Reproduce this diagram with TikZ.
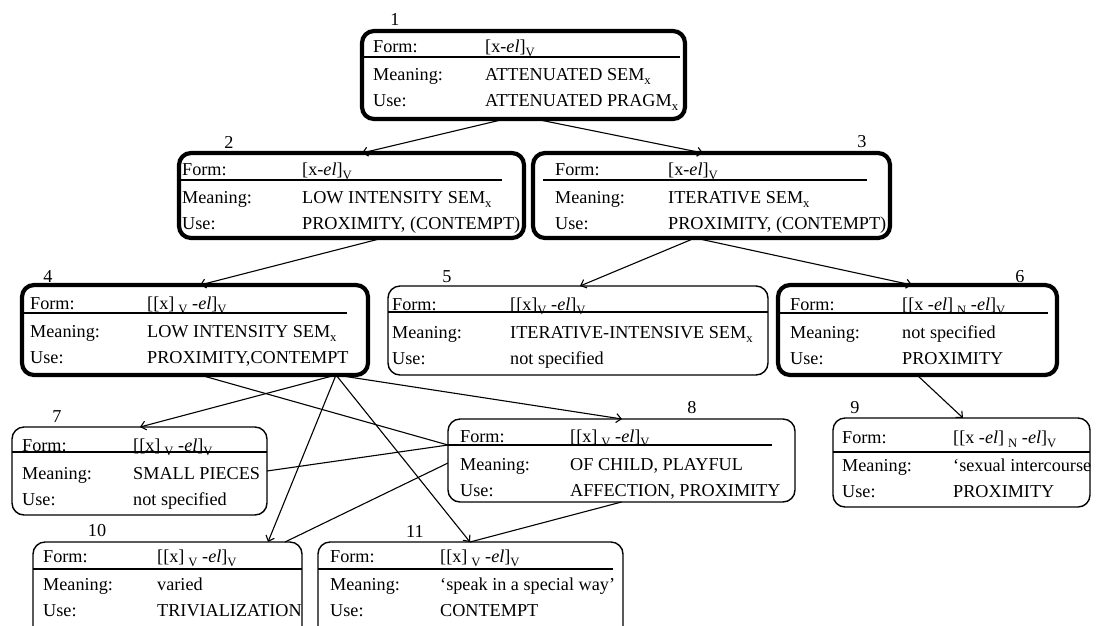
\documentclass[tikz,border=0pt]{standalone}
\usepackage{fontspec}
\setmainfont{Liberation Serif}
\usetikzlibrary{arrows.meta,fit}

\tikzset{
  entry/.style={draw, rounded corners=12pt, inner sep=0pt, outer sep=0pt},
  heavy/.style={entry, line width=4.2pt},
  light/.style={entry, line width=1.4pt},
  txt/.style={anchor=base west, inner sep=0pt, font=\fontsize{18.2}{22}\selectfont},
  num/.style={inner sep=0pt, font=\fontsize{18.2}{22}\selectfont},
  rowrule/.style={line width=1.2pt},
  link/.style={line width=1.1pt},
  arr/.style={link, -{Straight Barb[length=5pt,width=9pt]}},
}

% lowered, reduced subscript
\newcommand\lowsub[1]{\raisebox{-0.27em}{\fontsize{12.7}{13}\selectfont #1}}

% #1 name, #2 top of text block, #3 label column, #4 value column,
% #5/#6 ends of the rule under the form row, #7 form, #8 meaning, #9 use
\newcommand\entrytext[9]{%
  \node[txt] (#1-fl) at (#3,#2+24) {Form:};
  \node[txt] (#1-fv) at (#4,#2+24) {#7};
  \draw[rowrule] (#5) -- (#6);
  \node[txt] (#1-ml) at (#3,#2+52) {Meaning:};
  \node[txt] (#1-mv) at (#4,#2+52) {#8};
  \node[txt] (#1-ul) at (#3,#2+78) {Use:};
  \node[txt] (#1-uv) at (#4,#2+78) {#9};
}

\newcommand\formA{[x-\textit{el}]\lowsub{V}}
\newcommand\formB{[[x]\hspace{0.22em}\lowsub{V} -\textit{el}]\lowsub{V}}
\newcommand\formC{[[x]\lowsub{V} -\textit{el}]\lowsub{V}}
\newcommand\formD{[[x -\textit{el}]\hspace{0.22em}\lowsub{N} -\textit{el}]\lowsub{V}}

\begin{document}
\begin{tikzpicture}[x=1pt,y=-1pt]
\useasboundingbox (0,0) rectangle (1097,625);
\clip (0,0) rectangle (1097,625);
\fill[white] (0,0) rectangle (1097,625);

% boxes
\node[heavy, fit={(362,31) (685,119)}] (b1) {};
\node[heavy, fit={(179,153) (524,238)}] (b2) {};
\node[heavy, fit={(533,153) (890,238)}] (b3) {};
\node[heavy, fit={(22,285) (368,375)}] (b4) {};
\node[light, fit={(388,286) (768,375)}] (b5) {};
\node[heavy, fit={(778,285) (1057,375)}] (b6) {};
\node[light, fit={(12,427) (267,515)}] (b7) {};
\node[light, fit={(448,419) (795,502)}] (b8) {};
\node[light, fit={(833,418) (1090,507)}] (b9) {};
\node[light, fit={(33,542) (302,650)}] (b10) {};
\node[light, fit={(318,542) (623,650)}] (b11) {};

% numbers
\node[num] (n1) at (395,19) {1};
\node[num] (n2) at (229,142) {2};
\node[num] (n3) at (862,142) {3};
\node[num] (n4) at (48,277) {4};
\node[num] (n5) at (447,277) {5};
\node[num] (n6) at (1020,277) {6};
\node[num] (n7) at (57,417) {7};
\node[num] (n8) at (692,408) {8};
\node[num] (n9) at (855,408) {9};
\node[num] (n10) at (97,531) {10};
\node[num] (n11) at (415,531) {11};

% contents
\entrytext{t1}{28}{373}{485}{363,57}{680,57}{\formA}{ATTENUATED SEM\lowsub{x}}{ATTENUATED PRAGM\lowsub{x}}
\entrytext{t2}{151}{182}{302}{179,180}{502,180}{\formA}{LOW INTENSITY SEM\lowsub{x}}{PROXIMITY, (CONTEMPT)}
\entrytext{t3}{151}{555}{668}{543,180}{867,180}{\formA}{ITERATIVE SEM\lowsub{x}}{PROXIMITY, (CONTEMPT)}
\entrytext{t4}{285}{30}{147}{22,313}{347,313}{\formB}{LOW INTENSITY SEM\lowsub{x}}{PROXIMITY,CONTEMPT}
\entrytext{t5}{286}{392}{510}{388,312}{768,312}{\formC}{ITERATIVE-INTENSIVE SEM\lowsub{x}}{not specified}
\entrytext{t6}{286}{790}{902}{778,313}{1048,313}{\formD}{not specified}{PROXIMITY}
\entrytext{t7}{427}{22}{133}{12,452}{267,452}{\formB}{SMALL PIECES}{not specified}
\entrytext{t8}{418}{460}{570}{448,445}{772,445}{\formB}{OF CHILD, PLAYFUL}{AFFECTION, PROXIMITY}
\entrytext{t9}{419}{842}{953}{833,452}{1090,452}{\formD}{‘sexual intercourse}{PROXIMITY}
\entrytext{t10}{538}{43}{157}{33,569}{302,569}{\formB}{varied}{TRIVIALIZATION}
\entrytext{t11}{538}{330}{440}{318,569}{613,569}{\formB}{‘speak in a special way’}{CONTEMPT}

% connection points
\coordinate (p3) at ([xshift=162pt]b3.south west);
\coordinate (p4) at ([xshift=314pt]b4.south west);
\coordinate (q8) at ([yshift=-26pt]b8.north west);

% links
\draw[arr] ([xshift=143pt]b1.south west) -- ([xshift=183pt]b2.north west);
\draw[arr] ([xshift=173pt]b1.south west) -- ([xshift=170pt]b3.north west);
\draw[arr] ([xshift=204pt]b2.south west) -- ([xshift=178pt]b4.north west);
\draw[arr] (p3) -- ([xshift=192pt]b5.north west);
\draw[arr] (p3) -- ([xshift=134pt]b6.north west);
\draw[arr] ([xshift=139pt]b6.south west) -- ([xshift=130pt]b9.north west);
\draw[arr] (p4) -- ([xshift=128pt]b7.north west);
\draw[arr] (p4) -- ([xshift=174pt]b8.north west);
\draw[arr] (p4) -- ([xshift=235pt]b10.north west);
\draw[arr] (p4) -- ([xshift=152pt]b11.north west);
\draw[link] ([xshift=178pt]b4.south west) -- (q8);
\draw[link] (b7.east) -- (q8);
\draw[link] ([yshift=-44pt]b8.north west) -- ([xshift=252pt]b10.north west);
\draw[link] (b8.south) -- ([xshift=152pt]b11.north west);
\end{tikzpicture}
\end{document}
